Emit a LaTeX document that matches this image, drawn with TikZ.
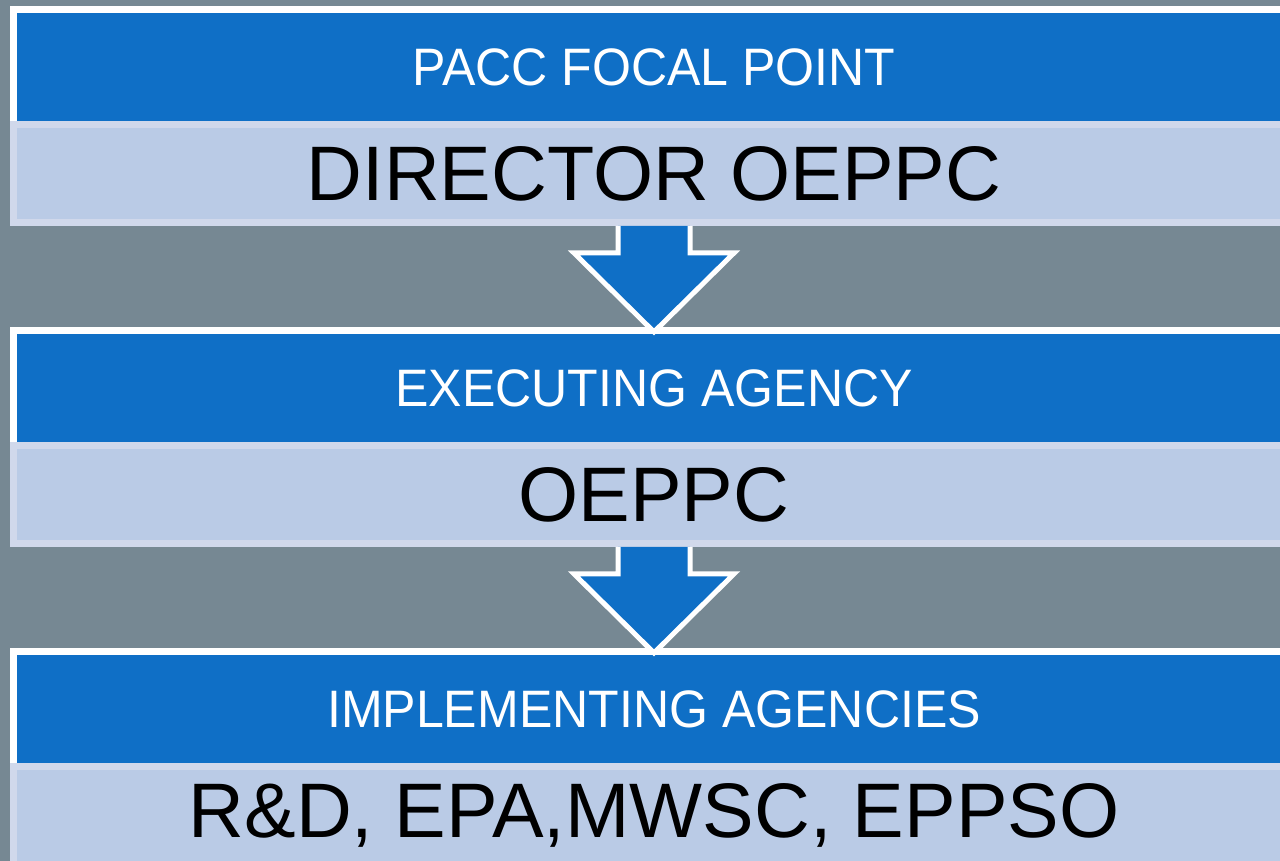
\documentclass[tikz,border=0pt]{standalone}
\usepackage{fontspec}
\setmainfont{Liberation Sans}
\newfontfamily\headfont[FakeStretch=0.95]{Liberation Sans}
\usetikzlibrary{positioning,calc}
\definecolor{bandblue}{HTML}{0F6FC6}
\definecolor{paleblue}{HTML}{BACBE6}
\definecolor{paleedge}{HTML}{D0D8EB}
\definecolor{slate}{HTML}{768893}

% block arrow from the bottom of one box to the top of the next
\newcommand{\flowdown}[2]{%
  \fill[bandblue] ($(#1.south)+(-36,0)$) -- ($(#1.south)+(36,0)$) -- ($(#1.south)+(36,27)$)
    -- ($(#1.south)+(80,27)$) -- ($(#2.north)+(0,5)$) -- ($(#1.south)+(-80,27)$)
    -- ($(#1.south)+(-36,27)$) -- cycle;
  \draw[white, line width=0.1cm] ($(#1.south)+(-36,0)$) -- ($(#1.south)+(-36,27)$)
    -- ($(#1.south)+(-80,27)$) -- ($(#2.north)+(0,5)$) -- ($(#1.south)+(80,27)$)
    -- ($(#1.south)+(36,27)$) -- ($(#1.south)+(36,0)$);
}

\begin{document}
\begin{tikzpicture}[x=0.02cm, y=-0.02cm,
  band/.style={fill=bandblue, draw=white, line width=0.14cm, inner sep=0pt,
    minimum width=25.62cm, minimum height=2.3cm, text=white,
    font=\headfont\fontsize{30}{36}\selectfont},
  cell/.style={fill=paleblue, draw=paleedge, line width=0.14cm, inner sep=0pt,
    minimum width=25.62cm, minimum height=1.96cm, text=black,
    font=\fontsize{44}{52}\selectfont}]
  \path[use as bounding box, fill=slate] (0,0) rectangle (1280,861);

  \node[band] (focal) at (654,67) {PACC FOCAL POINT};
  \node[cell, below=-0.14cm of focal] (director) {DIRECTOR OEPPC};

  \node[band, below=2.02cm of director] (executing) {EXECUTING AGENCY};
  \node[cell, below=-0.14cm of executing] (oeppc) {OEPPC};

  \node[band, below=2.02cm of oeppc] (implementing) {IMPLEMENTING AGENCIES};
  \node[cell, below=-0.14cm of implementing] (agencies) {R\&D, EPA,MWSC, EPPSO};

  \flowdown{director}{executing}
  \flowdown{oeppc}{implementing}
\end{tikzpicture}
\end{document}
